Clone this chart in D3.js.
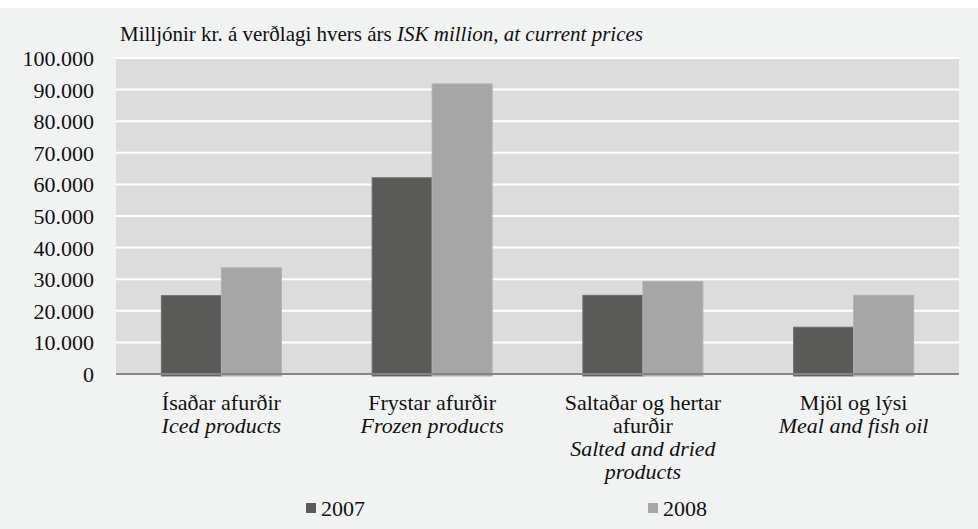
<!DOCTYPE html>
<html>
<head>
<meta charset="utf-8">
<script src="https://cdn.jsdelivr.net/npm/d3@7"></script>
<style>
  body { margin: 0; background: #ffffff; }
</style>
</head>
<body>
<div id="chart"></div>
<script>
// data
let categoriesIs = [["Ísaðar afurðir"], ["Frystar afurðir"], ["Saltaðar og hertar", "afurðir"], ["Mjöl og lýsi"]];
let categoriesEn = [["Iced products"], ["Frozen products"], ["Salted and dried", "products"], ["Meal and fish oil"]];
let years = ["2007", "2008"];
let values2007 = [24800, 62100, 24900, 14800];
let values2008 = [33600, 91800, 29300, 24900];
let yTicks = [0, 10000, 20000, 30000, 40000, 50000, 60000, 70000, 80000, 90000, 100000];

let width = 978;
let height = 529;
let plot = { left: 116, right: 959, top: 58, bottom: 374 };
let colors = ["#5a5a58", "#a6a6a6"];
let strokes = ["#6e6e6c", "#b2b2b2"];
let serif = "'Liberation Serif', 'Times New Roman', 'DejaVu Serif', serif";

let svg = d3.select("#chart")
    .append("svg")
    .attr("width", width)
    .attr("height", height)
    .style("font-family", serif)
    .attr("font-family", serif);

// outer panel
svg.append("rect")
    .attr("x", 0).attr("y", 8)
    .attr("width", width).attr("height", height - 8)
    .attr("fill", "#f1f2f2");

let x0 = d3.scaleBand()
    .domain(d3.range(categoriesIs.length))
    .range([plot.left, plot.right]);

let groupWidth = x0.bandwidth() * 120 / 210.75;
let x1 = d3.scaleBand()
    .domain(years)
    .range([0, groupWidth]);

let y = d3.scaleLinear()
    .domain([0, 100000])
    .range([plot.bottom, plot.top]);

// plot area
svg.append("rect")
    .attr("x", plot.left).attr("y", plot.top)
    .attr("width", plot.right - plot.left).attr("height", plot.bottom - plot.top)
    .attr("fill", "#dcdcdc");

// gridlines
svg.append("g")
    .selectAll("line")
    .data(yTicks.slice(1))
    .enter().append("line")
    .attr("x1", plot.left).attr("x2", plot.right)
    .attr("y1", (d) => y(d)).attr("y2", (d) => y(d))
    .attr("stroke", "#ffffff")
    .attr("stroke-width", 2);

// y axis labels
let fmt = (d) => d === 0 ? "0" : d3.format(",")(d).replace(/,/g, ".");
svg.append("g")
    .selectAll("text")
    .data(yTicks)
    .enter().append("text")
    .attr("x", 94)
    .attr("y", (d) => y(d) + 8)
    .attr("text-anchor", "end")
    .attr("fill", "#111")
    .style("font-size", "22px")
    .text(fmt);

// bars
let series = [values2007, values2008];
series.forEach(function (vals, s) {
    svg.append("g")
        .selectAll("rect")
        .data(vals)
        .enter().append("rect")
        .attr("x", (d, i) => x0(i) + (x0.bandwidth() - groupWidth) / 2 + x1(years[s]))
        .attr("y", (d) => y(d))
        .attr("width", x1.bandwidth())
        .attr("height", (d) => y(0) - y(d) + 2)
        .attr("fill", colors[s])
        .attr("stroke", strokes[s])
        .attr("stroke-width", 1);
});

// baseline
svg.append("line")
    .attr("x1", plot.left).attr("x2", plot.right)
    .attr("y1", plot.bottom).attr("y2", plot.bottom)
    .attr("stroke", "#858585")
    .attr("stroke-width", 2);

// category labels
categoriesIs.forEach(function (lines, i) {
    let all = lines.map((t) => ({ t: t, it: false })).concat(categoriesEn[i].map((t) => ({ t: t, it: true })));
    svg.append("g")
        .selectAll("text")
        .data(all)
        .enter().append("text")
        .attr("x", x0(i) + x0.bandwidth() / 2)
        .attr("y", (d, k) => 410 + k * 23)
        .attr("text-anchor", "middle")
        .attr("fill", "#111")
        .style("font-size", "22px")
        .style("font-style", (d) => d.it ? "italic" : "normal")
        .text((d) => d.t);
});

// title
let title = svg.append("text")
    .attr("x", 120)
    .attr("y", 41)
    .attr("fill", "#111")
    .style("font-size", "21px");
title.append("tspan").text("Milljónir kr. á verðlagi hvers árs ");
title.append("tspan").style("font-style", "italic").text("ISK million, at current prices");

// legend
let legendX = [306, 648];
years.forEach(function (yr, s) {
    svg.append("rect")
        .attr("x", legendX[s]).attr("y", 503)
        .attr("width", 10).attr("height", 10)
        .attr("fill", colors[s]);
    svg.append("text")
        .attr("x", legendX[s] + 15)
        .attr("y", 516)
        .attr("fill", "#111")
        .style("font-size", "22px")
        .text(yr);
});
</script>
</body>
</html>
